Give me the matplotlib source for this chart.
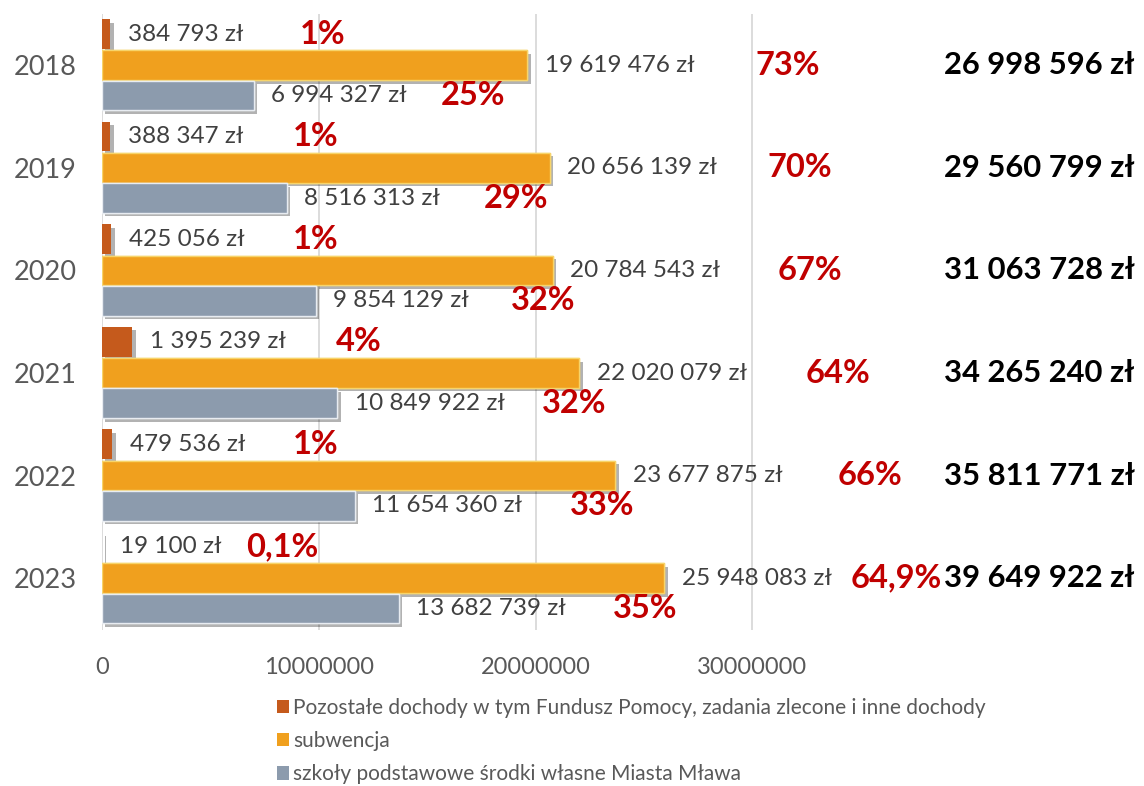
import matplotlib
matplotlib.use("Agg")
import matplotlib.pyplot as plt
import matplotlib.patheffects as pe
import numpy as np

# --- data ---
years = ["2018", "2019", "2020", "2021", "2022", "2023"]
pozostale = [384793, 388347, 425056, 1395239, 479536, 19100]
subwencja = [19619476, 20656139, 20784543, 22020079, 23677875, 25948083]
srodki_wlasne = [6994327, 8516313, 9854129, 10849922, 11654360, 13682739]

pct_pozostale = ["1%", "1%", "1%", "4%", "1%", "0,1%"]
pct_subwencja = ["73%", "70%", "67%", "64%", "66%", "64,9%"]
pct_srodki = ["25%", "29%", "32%", "32%", "33%", "35%"]

series_names = [
    "Pozostałe dochody w tym Fundusz Pomocy, zadania zlecone i inne dochody",
    "subwencja",
    "szkoły podstawowe środki własne Miasta Mława",
]
xticks = [0, 10000000, 20000000, 30000000]

# --- layout: x positions of the percentage captions (in axis units) ---
pct_x_pozostale = [9.12e6, 8.80e6, 8.80e6, 10.78e6, 8.80e6, 6.64e6]
pct_x_subwencja = [30.14e6, 30.69e6, 31.15e6, 32.44e6, 33.92e6, 34.55e6]
pct_x_srodki = [15.62e6, 17.60e6, 18.85e6, 20.28e6, 21.57e6, 23.59e6]
total_x = 38.85e6

colors = ["#C55A1C", "#F0A01E", "#8C9BAD"]
edge_colors = ["none", "#F7D46A", "#E8ECF1"]
FONT = "Lato"
plt.rcParams["font.family"] = [FONT, "DejaVu Sans"]


def fmt_zl(v):
    return f"{v:,}".replace(",", " ") + " zł"


fig = plt.figure(figsize=(11.44, 7.86), dpi=100)
ax = fig.add_axes([102 / 1144, 1 - 629.5 / 786, (969 - 102) / 1144, 615.5 / 786])

y = np.arange(len(years))
h = 0.29
offsets = [-0.305, 0.0, 0.295]
series = [pozostale, subwencja, srodki_wlasne]
pct_texts = [pct_pozostale, pct_subwencja, pct_srodki]
pct_xs = [pct_x_pozostale, pct_x_subwencja, pct_x_srodki]

shadow = [pe.withSimplePatchShadow(offset=(2.5, -2.5), shadow_rgbFace="black", alpha=0.3), pe.Normal()]

for vals, off, col, ec, name, ptxt, px in zip(series, offsets, colors, edge_colors,
                                              series_names, pct_texts, pct_xs):
    bars = ax.barh(y + off, vals, height=h, color=col, edgecolor=ec, linewidth=1.0,
                   label=name, zorder=3)
    for b in bars:
        b.set_path_effects(shadow)
    for i, v in enumerate(vals):
        ax.text(v + 0.8e6, y[i] + off, fmt_zl(v), va="center", ha="left",
                fontsize=17.5, color="#404040", zorder=4)
        ax.text(px[i], y[i] + off, ptxt[i], va="center", ha="left",
                fontsize=23.5, fontweight="bold", color="#C00000", zorder=4)

totals = [a + b + c for a, b, c in zip(pozostale, subwencja, srodki_wlasne)]
for i, t in enumerate(totals):
    ax.text(total_x, y[i], fmt_zl(t), va="center", ha="left", fontsize=22.3,
            fontweight="bold", color="black", clip_on=False, zorder=4)

ax.set_xlim(0, 40000000)
ax.set_ylim(len(years) - 0.5, -0.5)
ax.set_yticks(y)
ax.set_yticklabels(years)
ax.set_xticks(xticks)
ax.set_xticklabels([str(t) for t in xticks])
ax.tick_params(axis="y", length=0, pad=18, labelsize=19.5, labelcolor="#595959")
ax.tick_params(axis="x", length=0, pad=20, labelsize=17, labelcolor="#595959")
ax.grid(axis="x", color="#D9D9D9", linewidth=1.3, zorder=0)
for s in ax.spines.values():
    s.set_visible(False)

handles, labels = ax.get_legend_handles_labels()
leg = fig.legend(handles, labels, loc="upper left", bbox_to_anchor=(258 / 1144, 1 - 679 / 786),
                 frameon=False, fontsize=15, labelcolor="#595959", handlelength=0.6,
                 handleheight=0.6, handletextpad=0.2, labelspacing=0.64)
for hd in leg.legend_handles:
    hd.set_path_effects([])
    hd.set_edgecolor("none")

fig.savefig("out.png", dpi=100)
